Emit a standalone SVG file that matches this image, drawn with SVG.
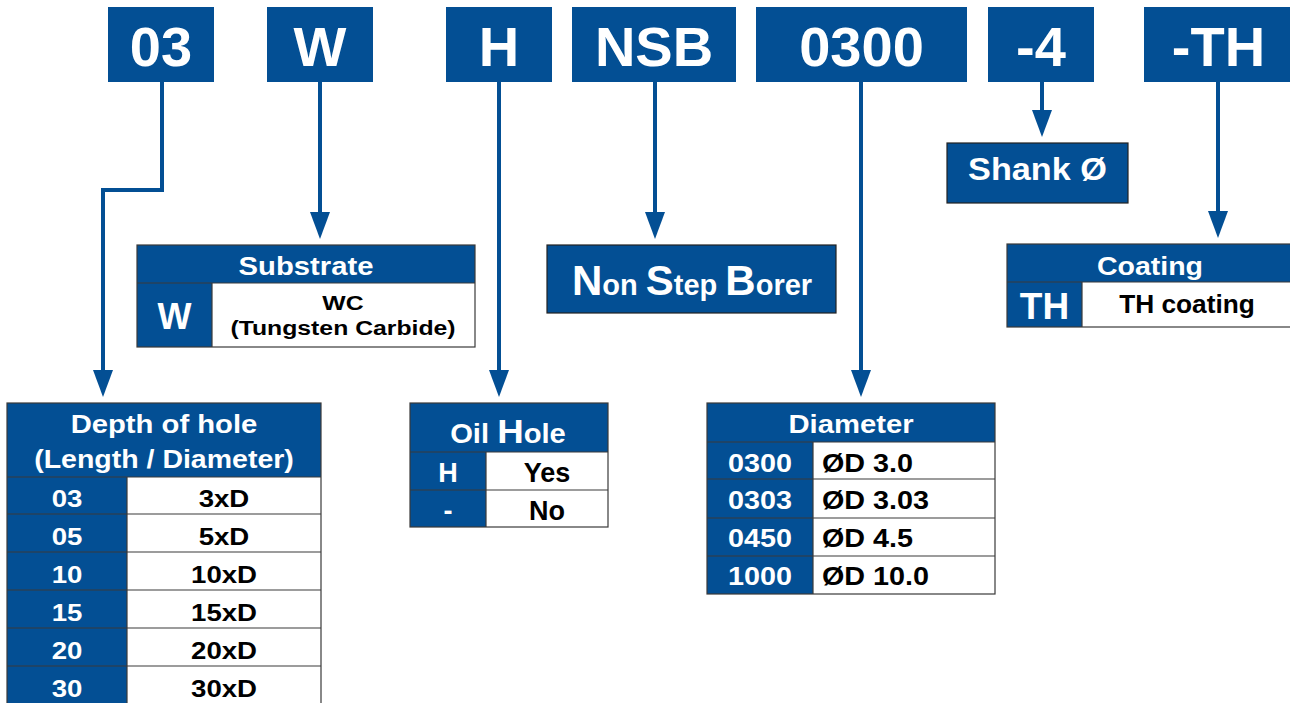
<svg xmlns="http://www.w3.org/2000/svg" width="1290" height="703" viewBox="0 0 1290 703">
<style>
.b{fill:#034f94}
.wf{fill:#fff}
.tx{font-family:"Liberation Sans",Arial,Helvetica,sans-serif;font-weight:700;text-anchor:middle}
.big{font-size:56px;fill:#fff}
.wt{fill:#fff}
.kt{fill:#000}
.grid{stroke:#3a3a3a;stroke-width:1.2;fill:none}
.box{stroke:#222;stroke-width:1.2}
.conn{stroke:#034f94;stroke-width:4;fill:none;stroke-linejoin:miter;marker-end:url(#ah)}
</style>
<defs>
<marker id="ah" markerUnits="userSpaceOnUse" viewBox="0 0 27 20" refX="0" refY="10" markerWidth="27" markerHeight="20" orient="auto">
<path d="M0,0 L27,10 L0,20 Z" fill="#034f94"/>
</marker>
</defs>
<rect width="1290" height="703" fill="#fff"/>

<g id="code-03"><rect class="b" x="108" y="7" width="106" height="75"/><text class="tx big" x="161" y="66">03</text></g>
<g id="code-W"><rect class="b" x="267" y="7" width="106" height="75"/><text class="tx big" x="320" y="66">W</text></g>
<g id="code-H"><rect class="b" x="446" y="7" width="106" height="75"/><text class="tx big" x="499" y="66">H</text></g>
<g id="code-NSB"><rect class="b" x="572" y="7" width="164" height="75"/><text class="tx big" x="654" y="66">NSB</text></g>
<g id="code-0300"><rect class="b" x="756" y="7" width="211" height="75"/><text class="tx big" x="861.5" y="66">0300</text></g>
<g id="code-4"><rect class="b" x="988" y="7" width="106" height="75"/><text class="tx big" x="1041" y="66">-4</text></g>
<g id="code-TH"><rect class="b" x="1144" y="7" width="151" height="75"/><text class="tx big" x="1218.5" y="66">-TH</text></g>

<g id="connectors">
<path class="conn" d="M162,82 V190 H103 V370"/>
<path class="conn" d="M320,82 V212"/>
<path class="conn" d="M499,82 V370"/>
<path class="conn" d="M655,82 V212"/>
<path class="conn" d="M861,82 V370"/>
<path class="conn" d="M1042,82 V110"/>
<path class="conn" d="M1218,82 V211"/>
</g>

<g id="shank">
<rect class="b box" x="947" y="143" width="181" height="60"/>
<text class="tx wt" font-size="32" transform="translate(1037.5,180) scale(1.07,1)">Shank Ø</text>
</g>

<g id="substrate">
<rect class="b" x="137" y="245" width="338" height="38"/>
<rect class="b" x="137" y="283" width="75" height="64"/>
<rect class="wf" x="212" y="283" width="263" height="64"/>
<rect class="grid" x="137" y="245" width="338" height="102"/>
<path class="grid" d="M137,283 H475 M212,283 V347"/>
<text class="tx wt" font-size="25" transform="translate(306,275) scale(1.17,1)">Substrate</text>
<text class="tx wt" font-size="36" x="174.5" y="329">W</text>
<text class="tx kt" font-size="21" transform="translate(343,310) scale(1.18,1)">WC</text>
<text class="tx kt" font-size="21" transform="translate(343,335) scale(1.18,1)">(Tungsten Carbide)</text>
</g>

<g id="nsb">
<rect class="b box" x="547" y="245" width="289" height="68"/>
<text class="tx wt" x="692" y="295"><tspan font-size="42">N</tspan><tspan font-size="29">on </tspan><tspan font-size="42">S</tspan><tspan font-size="29">tep </tspan><tspan font-size="42">B</tspan><tspan font-size="29">orer</tspan></text>
</g>

<g id="coating">
<rect class="b" x="1007" y="244" width="288" height="38"/>
<rect class="b" x="1007" y="282" width="75" height="45"/>
<rect class="wf" x="1082" y="282" width="213" height="45"/>
<rect class="grid" x="1007" y="244" width="288" height="83"/>
<path class="grid" d="M1007,282 H1295 M1082,282 V327"/>
<text class="tx wt" font-size="25" transform="translate(1150,275) scale(1.14,1)">Coating</text>
<text class="tx wt" font-size="37" x="1044.5" y="319">TH</text>
<text class="tx kt" font-size="25" transform="translate(1187,313) scale(1.05,1)">TH coating</text>
</g>

<g id="depth">
<rect class="b" x="7" y="403" width="314" height="74"/>
<rect class="b" x="7" y="477" width="120" height="230"/>
<rect class="wf" x="127" y="477" width="194" height="230"/>
<rect class="grid" x="7" y="403" width="314" height="304"/>
<path class="grid" d="M7,477 H321 M7,514 H321 M7,552 H321 M7,590 H321 M7,628 H321 M7,666 H321 M127,477 V707"/>
<text class="tx wt" font-size="25" transform="translate(164,433) scale(1.17,1)">Depth of hole</text>
<text class="tx wt" font-size="25" transform="translate(164,468) scale(1.14,1)">(Length / Diameter)</text>
<text class="tx wt" font-size="23" transform="translate(67,507) scale(1.2,1)">03</text>
<text class="tx kt" font-size="23" transform="translate(224,507) scale(1.2,1)">3xD</text>
<text class="tx wt" font-size="23" transform="translate(67,545) scale(1.2,1)">05</text>
<text class="tx kt" font-size="23" transform="translate(224,545) scale(1.2,1)">5xD</text>
<text class="tx wt" font-size="23" transform="translate(67,583) scale(1.2,1)">10</text>
<text class="tx kt" font-size="23" transform="translate(224,583) scale(1.2,1)">10xD</text>
<text class="tx wt" font-size="23" transform="translate(67,621) scale(1.2,1)">15</text>
<text class="tx kt" font-size="23" transform="translate(224,621) scale(1.2,1)">15xD</text>
<text class="tx wt" font-size="23" transform="translate(67,659) scale(1.2,1)">20</text>
<text class="tx kt" font-size="23" transform="translate(224,659) scale(1.2,1)">20xD</text>
<text class="tx wt" font-size="23" transform="translate(67,697) scale(1.2,1)">30</text>
<text class="tx kt" font-size="23" transform="translate(224,697) scale(1.2,1)">30xD</text>
</g>

<g id="oil-hole">
<rect class="b" x="410" y="403" width="198" height="49"/>
<rect class="b" x="410" y="452" width="76" height="75"/>
<rect class="wf" x="486" y="452" width="122" height="75"/>
<rect class="grid" x="410" y="403" width="198" height="124"/>
<path class="grid" d="M410,452 H608 M410,490 H608 M486,452 V527"/>
<text class="tx wt" transform="translate(508,443) scale(1.08,1)"><tspan font-size="27">Oil </tspan><tspan font-size="34">H</tspan><tspan font-size="27">ole</tspan></text>
<text class="tx wt" font-size="27" x="448" y="482">H</text>
<text class="tx kt" font-size="27" x="547" y="482">Yes</text>
<text class="tx wt" font-size="27" x="448" y="520">-</text>
<text class="tx kt" font-size="27" x="547" y="520">No</text>
</g>

<g id="diameter">
<rect class="b" x="707" y="403" width="288" height="39"/>
<rect class="b" x="707" y="442" width="106" height="152"/>
<rect class="wf" x="813" y="442" width="182" height="152"/>
<rect class="grid" x="707" y="403" width="288" height="191"/>
<path class="grid" d="M707,442 H995 M707,479 H995 M707,518 H995 M707,556 H995 M813,442 V594"/>
<text class="tx wt" font-size="25" transform="translate(851,433) scale(1.17,1)">Diameter</text>
<text class="tx wt" font-size="25" transform="translate(760,472) scale(1.15,1)">0300</text>
<text class="tx kt" font-size="25" text-anchor="start" style="text-anchor:start" transform="translate(822,472) scale(1.15,1)">ØD 3.0</text>
<text class="tx wt" font-size="25" transform="translate(760,509) scale(1.15,1)">0303</text>
<text class="tx kt" font-size="25" style="text-anchor:start" transform="translate(822,509) scale(1.15,1)">ØD 3.03</text>
<text class="tx wt" font-size="25" transform="translate(760,547) scale(1.15,1)">0450</text>
<text class="tx kt" font-size="25" style="text-anchor:start" transform="translate(822,547) scale(1.15,1)">ØD 4.5</text>
<text class="tx wt" font-size="25" transform="translate(760,585) scale(1.15,1)">1000</text>
<text class="tx kt" font-size="25" style="text-anchor:start" transform="translate(822,585) scale(1.15,1)">ØD 10.0</text>
</g>
</svg>
